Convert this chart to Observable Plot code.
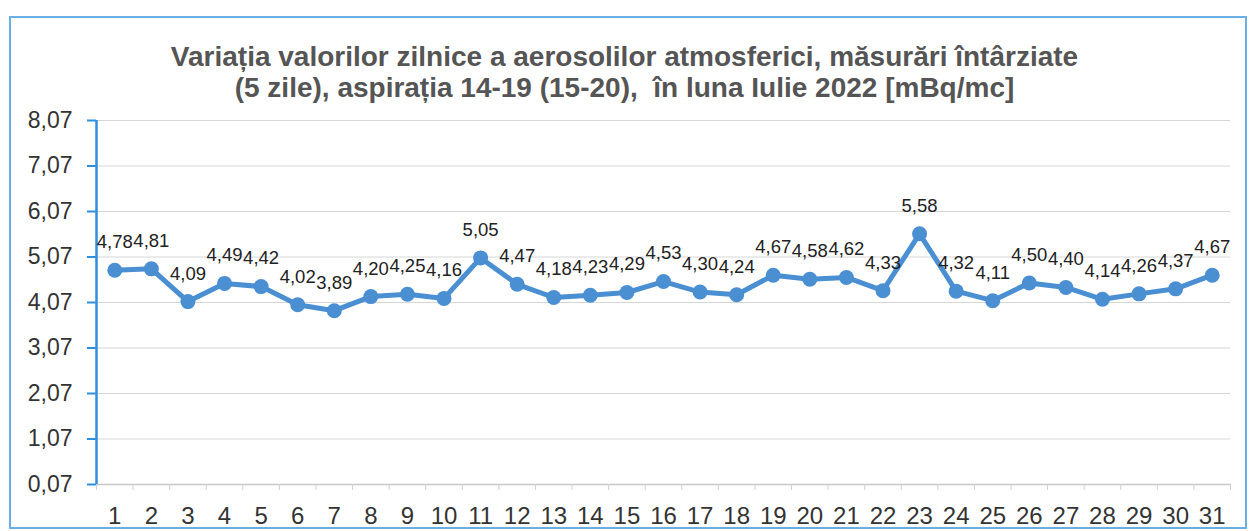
<!DOCTYPE html>
<html>
<head>
<meta charset="utf-8">
<script src="https://cdn.jsdelivr.net/npm/d3@7"></script>
<script src="https://cdn.jsdelivr.net/npm/@observablehq/plot@0.6"></script>
<style>
  html, body { margin: 0; padding: 0; background: #fff; }
  #page { position: relative; width: 1253px; height: 531px; overflow: hidden; font-family: "Liberation Sans", Arial, sans-serif; }
  #frame { position: absolute; left: 9px; top: 16px; width: 1238px; height: 513px; border: 2px solid #6aaee3; box-sizing: border-box; pointer-events: none; }
  #title { height: 105px; box-sizing: border-box; padding-top: 41px; width: 1253px; text-align: center; font-weight: bold; font-size: 28px; line-height: 31px; color: #555; }
  #title div { position: relative; left: -2px; white-space: nowrap; }
</style>
</head>
<body>
<div id="page">
  <div id="frame"></div>
  <div id="title"><div>Variația valorilor zilnice a aerosolilor atmosferici, măsurări întârziate</div><div>(5 zile), aspirația 14-19 (15-20),&nbsp; în luna Iulie 2022 [mBq/mc]</div></div>
  <div id="chart"></div>
</div>
<script>
const days = Array.from({length: 31}, (_, i) => i + 1);
const values = [4.78, 4.81, 4.09, 4.49, 4.42, 4.02, 3.89, 4.20, 4.25, 4.16,
                5.05, 4.47, 4.18, 4.23, 4.29, 4.53, 4.30, 4.24, 4.67, 4.58,
                4.62, 4.33, 5.58, 4.32, 4.11, 4.50, 4.40, 4.14, 4.26, 4.37, 4.67];
const yTicks = [0.07, 1.07, 2.07, 3.07, 4.07, 5.07, 6.07, 7.07, 8.07];
const dayEdges = Array.from({length: 32}, (_, i) => i + 0.5);

const data = days.map((d, i) => ({day: d, value: values[i]}));
const comma = v => d3.format(".2f")(v).replace(".", ",");
const blue = "#4a8fd2";
const axisBlue = "#2f8fde";

const chart = Plot.plot({
  width: 1253,
  height: 426,
  marginTop: 15,
  marginBottom: 47,
  marginLeft: 96,
  marginRight: 23,
  style: {fontFamily: "Liberation Sans, Arial, sans-serif", background: "transparent", overflow: "visible"},
  x: {type: "linear", domain: [0.5, 31.5], label: null},
  y: {domain: [0.07, 8.07], label: null},
  marks: [
    Plot.ruleY(yTicks.slice(1), {stroke: "#d6d6d6", strokeWidth: 1}),
    Plot.ruleY([0.07], {stroke: "#c8c8c8", strokeWidth: 1.5}),
    Plot.axisX({ticks: dayEdges, tickFormat: () => "", tickSize: 6, stroke: "#cfcfcf", label: null}),
    Plot.axisX({ticks: days, tickFormat: d => String(d), tickSize: 0, tickPadding: 22, fontSize: 24, fill: "#333", label: null}),
    Plot.axisY({ticks: yTicks, tickFormat: comma, tickSize: 9, tickPadding: 15, stroke: axisBlue, strokeWidth: 2, fontSize: 23, fill: "#333", label: null}),
    Plot.ruleX([0.5], {stroke: axisBlue, strokeWidth: 2.5}),
    Plot.line(data, {x: "day", y: "value", stroke: blue, strokeWidth: 5, strokeLinejoin: "round"}),
    Plot.dot(data, {x: "day", y: "value", r: 7.5, fill: blue, stroke: "none"}),
    Plot.text(data, {x: "day", y: "value", text: d => comma(d.value), dy: -28, fontSize: 18.5, fill: "#222"})
  ]
});
document.getElementById("chart").appendChild(chart);
</script>
</body>
</html>
